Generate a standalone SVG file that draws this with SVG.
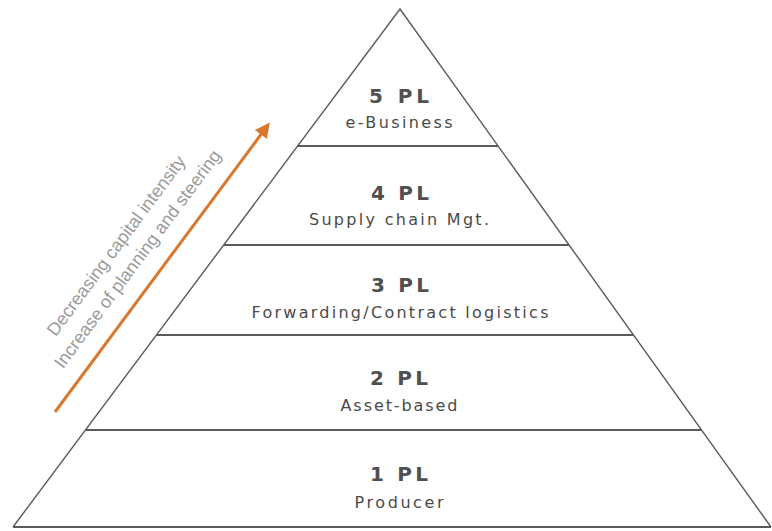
<svg xmlns="http://www.w3.org/2000/svg" width="772" height="531" viewBox="0 0 772 531">
<defs>
<style>
.edge{stroke:#5a5a5a;stroke-width:1.4;fill:none}
.tier{stroke:#5a5a5a;stroke-width:2;fill:none}
.t{font-family:"DejaVu Sans",Verdana,sans-serif;font-weight:bold;font-size:20px;fill:#505050;text-anchor:middle}
.s{font-family:"DejaVu Sans",Verdana,sans-serif;font-size:16px;fill:#4a4a4a;text-anchor:middle}
.side{font-family:"Liberation Sans",Arial,sans-serif;font-size:18px;fill:#9a9a9a;text-anchor:middle}
</style>
<marker id="ah" viewBox="0 0 10 10" refX="8" refY="5" markerWidth="5" markerHeight="5" orient="auto" markerUnits="strokeWidth">
<path d="M0,0 L10,5 L0,10 Z" fill="#d9782d"/>
</marker>
</defs>
<rect width="772" height="531" fill="#ffffff"/>
<g id="pyramid">
<polyline class="edge" points="13,527 400,9 771,527"/>
<line class="tier" x1="13" y1="527" x2="771" y2="527"/>
</g>
<g id="tier5">
<line class="tier" x1="297" y1="146" x2="498" y2="146"/>
<text class="t" x="399" y="103" textLength="60" lengthAdjust="spacing">5 PL</text>
<text class="s" x="399" y="128" textLength="107" lengthAdjust="spacing">e-Business</text>
</g>
<g id="tier4">
<line class="tier" x1="224" y1="245" x2="569" y2="245"/>
<text class="t" x="400" y="200" textLength="58" lengthAdjust="spacing">4 PL</text>
<text class="s" x="399" y="225" textLength="180" lengthAdjust="spacing">Supply chain Mgt.</text>
</g>
<g id="tier3">
<line class="tier" x1="157" y1="335" x2="633" y2="335"/>
<text class="t" x="400" y="292" textLength="58" lengthAdjust="spacing">3 PL</text>
<text class="s" x="400" y="318" textLength="297" lengthAdjust="spacing">Forwarding/Contract logistics</text>
</g>
<g id="tier2">
<line class="tier" x1="86" y1="430" x2="701" y2="430"/>
<text class="t" x="399" y="385" textLength="58" lengthAdjust="spacing">2 PL</text>
<text class="s" x="399" y="411" textLength="117" lengthAdjust="spacing">Asset-based</text>
</g>
<g id="tier1">
<text class="t" x="399" y="481" textLength="58" lengthAdjust="spacing">1 PL</text>
<text class="s" x="399" y="508" textLength="89" lengthAdjust="spacing">Producer</text>
</g>
<g id="connectors">
<line x1="55" y1="412" x2="268" y2="125" stroke="#d9782d" stroke-width="3" marker-end="url(#ah)"/>
</g>
<g id="side-labels" transform="translate(55,412) rotate(-53.4)">
<text class="side" x="170" y="-44">Decreasing capital intensity</text>
<text class="side" x="172" y="-19">Increase of planning and steering</text>
</g>
</svg>
